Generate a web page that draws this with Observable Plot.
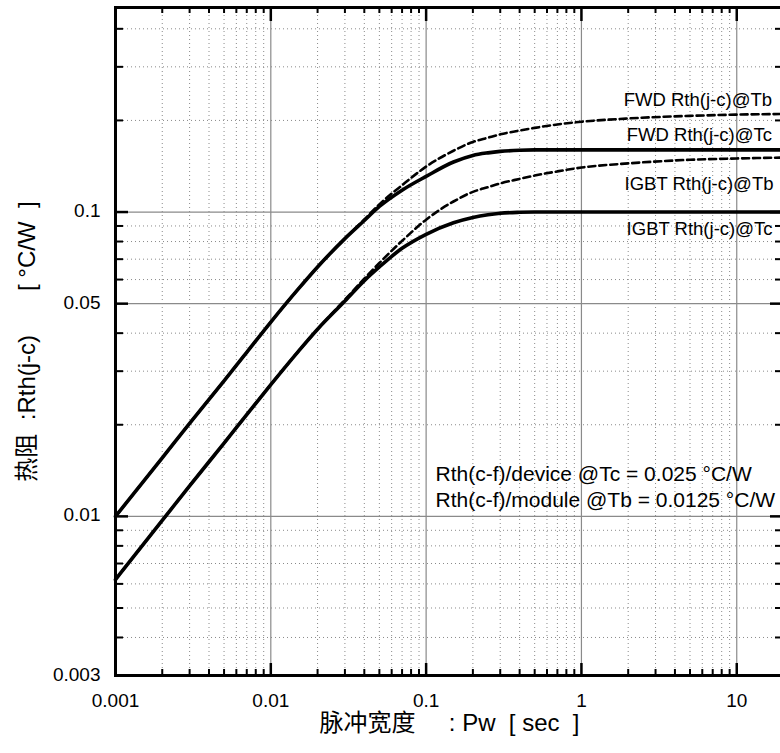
<!DOCTYPE html>
<html>
<head>
<meta charset="utf-8">
<script src="https://cdn.jsdelivr.net/npm/d3@7"></script>
<script src="https://cdn.jsdelivr.net/npm/@observablehq/plot@0.6"></script>
<style>
  html, body { margin: 0; padding: 0; background: #fff; overflow: hidden; }
</style>
</head>
<body>
<div id="chart"></div>
<script>
// ---- data ----
const pw = [0.001, 0.002, 0.003, 0.005, 0.007, 0.01, 0.015, 0.02, 0.03, 0.04, 0.05, 0.07, 0.1, 0.15, 0.2, 0.25, 0.3, 0.4, 0.5, 0.7, 1, 2, 5, 10, 20];
const fwdTc  = [0.0100, 0.01557, 0.0202, 0.0279, 0.0346, 0.0435, 0.0558, 0.0660, 0.0818, 0.0938, 0.1043, 0.1180, 0.1310, 0.1460, 0.1535, 0.1565, 0.1582, 0.1596, 0.1600, 0.1600, 0.1600, 0.1600, 0.1600, 0.1600, 0.1600];
const fwdTb  = [0.0100, 0.01557, 0.0202, 0.0279, 0.0346, 0.0435, 0.0558, 0.0660, 0.0818, 0.0945, 0.1060, 0.1225, 0.1410, 0.1590, 0.1700, 0.1755, 0.1800, 0.1853, 0.1890, 0.1940, 0.1980, 0.2030, 0.2070, 0.2090, 0.2100];
const igbtTc = [0.0062, 0.0097, 0.0126, 0.0174, 0.0216, 0.0271, 0.0348, 0.0412, 0.0510, 0.0595, 0.0660, 0.0760, 0.0845, 0.0922, 0.0960, 0.0980, 0.0991, 0.0998, 0.1000, 0.1000, 0.1000, 0.1000, 0.1000, 0.1000, 0.1000];
const igbtTb = [0.0062, 0.0097, 0.0126, 0.0174, 0.0216, 0.0271, 0.0348, 0.0412, 0.0515, 0.0604, 0.0680, 0.0804, 0.0944, 0.1083, 0.1165, 0.1207, 0.1242, 0.1285, 0.1318, 0.1360, 0.1400, 0.1445, 0.1485, 0.1500, 0.1510];

const seriesNames = ["FWD Rth(j-c)@Tb", "FWD Rth(j-c)@Tc", "IGBT Rth(j-c)@Tb", "IGBT Rth(j-c)@Tc"];

const xTickValues = [0.001, 0.01, 0.1, 1, 10];
const xTickLabels = ["0.001", "0.01", "0.1", "1", "10"];
const xMajorGrid = [0.01, 0.1, 1, 10];
const xMinor = [0.002, 0.003, 0.004, 0.005, 0.006, 0.007, 0.008, 0.009,
                0.02, 0.03, 0.04, 0.05, 0.06, 0.07, 0.08, 0.09,
                0.2, 0.3, 0.4, 0.5, 0.6, 0.7, 0.8, 0.9,
                2, 3, 4, 5, 6, 7, 8, 9];
const yTickValues = [0.003, 0.01, 0.05, 0.1];
const yTickLabels = ["0.003", "0.01", "0.05", "0.1"];
const yMajorGrid = [0.01, 0.05, 0.1];
const yMinor = [0.004, 0.005, 0.006, 0.007, 0.008, 0.009,
                0.02, 0.03, 0.04, 0.06, 0.07, 0.08, 0.09,
                0.2, 0.3, 0.4];

const noteLines = ["Rth(c-f)/device @Tc = 0.025 °C/W", "Rth(c-f)/module @Tb = 0.0125 °C/W"];
const S = "\u00A0"; // non-collapsing space
const xLabel = "脉冲宽度" + S.repeat(5) + ":" + S + "Pw" + S.repeat(2) + "[" + S + "sec" + S.repeat(2) + "]";
const yLabel = "热阻" + S.repeat(2) + ":Rth(j-c)" + "\u3000" + S.repeat(3) + "[" + S + "°C/W" + S.repeat(2) + "]";

// ---- layout ----
const W = 780, H = 753;
const mL = 115, mR = -3, mT = 7, mB = 78;
const PW = W - mL - mR, PH = H - mT - mB;

const toRows = (vals) => pw.map((x, i) => ({x, y: vals[i]}));
const rowsFwdTc = toRows(fwdTc), rowsFwdTb = toRows(fwdTb);
const rowsIgbtTc = toRows(igbtTc), rowsIgbtTb = toRows(igbtTb);

const font = '"Liberation Sans", Arial, "Noto Sans CJK SC", sans-serif';
const gridGray = "#8a8a8a";

const chart = Plot.plot({
  width: W, height: H,
  marginLeft: mL, marginRight: mR, marginTop: mT, marginBottom: mB,
  style: {fontFamily: font, fontSize: "19px", background: "#fff", color: "#000", overflow: "visible"},
  x: {type: "log", domain: [0.001, 20], axis: null},
  y: {type: "log", domain: [0.003, 0.47], axis: null},
  marks: [
    // grid
    Plot.ruleX(xMinor, {x: d => d, stroke: gridGray, strokeWidth: 1, strokeDasharray: "1,3"}),
    Plot.ruleY(yMinor, {y: d => d, stroke: gridGray, strokeWidth: 1, strokeDasharray: "1,3"}),
    Plot.ruleX(xMajorGrid, {x: d => d, stroke: gridGray, strokeWidth: 1.2}),
    Plot.ruleY(yMajorGrid, {y: d => d, stroke: gridGray, strokeWidth: 1.2}),
    // curves
    Plot.line(rowsFwdTc, {x: "x", y: "y", stroke: "#000", strokeWidth: 3.6, curve: "monotone-x"}),
    Plot.line(rowsIgbtTc, {x: "x", y: "y", stroke: "#000", strokeWidth: 3.6, curve: "monotone-x"}),
    Plot.line(rowsFwdTb, {x: "x", y: "y", stroke: "#000", strokeWidth: 2.6, strokeDasharray: "7,4", curve: "monotone-x"}),
    Plot.line(rowsIgbtTb, {x: "x", y: "y", stroke: "#000", strokeWidth: 2.6, strokeDasharray: "7,4", curve: "monotone-x"}),
    // inward ticks: bottom
    Plot.ruleX(xMinor, {x: d => d, insetTop: PH - 6, stroke: "#000", strokeWidth: 2}),
    Plot.ruleX(xMajorGrid, {x: d => d, insetTop: PH - 12, stroke: "#000", strokeWidth: 2.5}),
    // top
    Plot.ruleX(xMinor, {x: d => d, insetBottom: PH - 6, stroke: "#000", strokeWidth: 2}),
    Plot.ruleX(xMajorGrid, {x: d => d, insetBottom: PH - 14, stroke: "#000", strokeWidth: 2.5}),
    // left
    Plot.ruleY(yMinor, {y: d => d, insetRight: PW - 8, stroke: "#000", strokeWidth: 2}),
    Plot.ruleY(yMajorGrid, {y: d => d, insetRight: PW - 13, stroke: "#000", strokeWidth: 2.5}),
    // right
    Plot.ruleY(yMinor, {y: d => d, insetLeft: PW - 8, stroke: "#000", strokeWidth: 2}),
    Plot.ruleY(yMajorGrid, {y: d => d, insetLeft: PW - 13, stroke: "#000", strokeWidth: 2.5}),
    // frame
    Plot.frame({stroke: "#000", strokeWidth: 3}),
    // tick labels
    Plot.text(xTickValues, {x: d => d, text: (d, i) => xTickLabels[i], frameAnchor: "bottom", textAnchor: "middle", lineAnchor: "top", dy: 17.5, fontSize: 19, fill: "#000"}),
    Plot.text(yTickValues, {y: d => d, text: (d, i) => yTickLabels[i], frameAnchor: "left", textAnchor: "end", lineAnchor: "middle", dx: -15, dy: -1, fontSize: 19, fill: "#000"}),
    // series labels
    Plot.text([seriesNames[0]], {x: () => 20, y: () => fwdTb[fwdTb.length - 1], text: d => d, textAnchor: "end", dx: -11.5, dy: -13.5, fontSize: 18.5, fill: "#000"}),
    Plot.text([seriesNames[1]], {x: () => 20, y: () => fwdTc[fwdTc.length - 1], text: d => d, textAnchor: "end", dx: -11.5, dy: -15, fontSize: 18.5, fill: "#000"}),
    Plot.text([seriesNames[2]], {x: () => 20, y: () => igbtTb[igbtTb.length - 1], text: d => d, textAnchor: "end", dx: -10, dy: 27, fontSize: 18.5, fill: "#000"}),
    Plot.text([seriesNames[3]], {x: () => 20, y: () => igbtTc[igbtTc.length - 1], text: d => d, textAnchor: "end", dx: -11, dy: 17.5, fontSize: 18.5, fill: "#000"}),
    // note
    Plot.text([noteLines.join("\n")], {frameAnchor: "top-left", textAnchor: "start", lineAnchor: "top", dx: 320, dy: 455, lineHeight: 26 / 21, fontSize: 21, fill: "#000"}),
    // axis titles
    Plot.text([xLabel], {frameAnchor: "bottom", textAnchor: "middle", lineAnchor: "middle", dy: 48, fontSize: 24, fill: "#000"}),
    Plot.text([yLabel], {frameAnchor: "left", textAnchor: "middle", lineAnchor: "middle", rotate: -90, dx: -88, fontSize: 24, fill: "#000"})
  ]
});
document.getElementById("chart").appendChild(chart);
</script>
</body>
</html>
